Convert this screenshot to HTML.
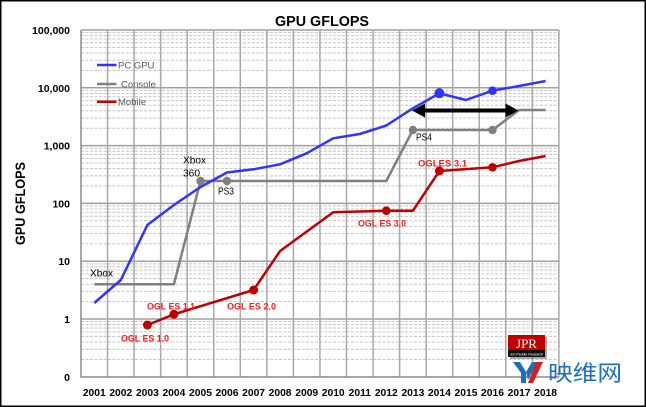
<!DOCTYPE html>
<html><head><meta charset="utf-8"><style>
html,body{margin:0;padding:0;background:#fff;}
svg{display:block;}
text{font-family:"Liberation Sans","Noto Sans CJK SC",sans-serif;}
</style></head><body>
<svg width="646" height="407" viewBox="0 0 646 407" xmlns="http://www.w3.org/2000/svg">
<rect x="0.75" y="0.75" width="644.5" height="405.5" fill="#fff" stroke="#000" stroke-width="1.5"/>
<!-- minor grid -->
<path fill="none" stroke="#c4c4c4" stroke-width="1" stroke-dasharray="3 1.5" d="
M81 359.4H559M81 349.22H559M81 342H559M81 336.4H559M81 331.82H559M81 327.95H559M81 324.6H559M81 321.65H559
M81 301.6H559M81 291.42H559M81 284.2H559M81 278.6H559M81 274.02H559M81 270.15H559M81 266.8H559M81 263.85H559
M81 243.8H559M81 233.62H559M81 226.4H559M81 220.8H559M81 216.22H559M81 212.35H559M81 209H559M81 206.05H559
M81 186H559M81 175.82H559M81 168.6H559M81 163H559M81 158.42H559M81 154.55H559M81 151.2H559M81 148.25H559
M81 128.2H559M81 118.02H559M81 110.8H559M81 105.2H559M81 100.62H559M81 96.75H559M81 93.4H559M81 90.45H559
M81 70.4H559M81 60.22H559M81 53H559M81 47.4H559M81 42.82H559M81 38.95H559M81 35.6H559M81 32.65H559"/>
<!-- major horizontal -->
<path fill="none" stroke="#a0a0a0" stroke-width="1.5" d="M81 30H559M81 87.8H559M81 145.6H559M81 203.4H559M81 261.2H559M81 319H559"/>
<!-- vertical grid -->
<path fill="none" stroke="#a8a8a8" stroke-width="1.5" d="M107.55 30V377M134.1 30V377M160.65 30V377M187.2 30V377M213.75 30V377M240.3 30V377M266.85 30V377M293.4 30V377M319.95 30V377M346.5 30V377M373.05 30V377M399.6 30V377M426.15 30V377M452.7 30V377M479.25 30V377M505.8 30V377M532.35 30V377M558.9 30V377"/>
<path fill="none" stroke="#8a8a8a" stroke-width="1.5" d="M81 30V377H559"/>
<!-- y tick labels -->
<g font-size="10.5" font-weight="bold" fill="#000" text-anchor="end">
<text x="70" y="34">100,000</text>
<text x="70" y="91.8">10,000</text>
<text x="70" y="149.6">1,000</text>
<text x="70" y="207.4">100</text>
<text x="70" y="265.2">10</text>
<text x="70" y="323">1</text>
<text x="70" y="380.8">0</text>
</g>
<!-- x labels -->
<g font-size="10.3" font-weight="bold" fill="#000" text-anchor="middle">
<text x="94.3" y="396">2001</text><text x="120.8" y="396">2002</text><text x="147.4" y="396">2003</text>
<text x="173.9" y="396">2004</text><text x="200.5" y="396">2005</text><text x="227" y="396">2006</text>
<text x="253.6" y="396">2007</text><text x="280.1" y="396">2008</text><text x="306.7" y="396">2009</text>
<text x="333.2" y="396">2010</text><text x="359.8" y="396">2011</text><text x="386.3" y="396">2012</text>
<text x="412.9" y="396">2013</text><text x="439.4" y="396">2014</text><text x="466" y="396">2015</text>
<text x="492.5" y="396">2016</text><text x="519.1" y="396">2017</text><text x="545.6" y="396">2018</text>
</g>
<!-- titles -->
<text x="322" y="26" font-size="15" font-weight="bold" text-anchor="middle" textLength="94" lengthAdjust="spacingAndGlyphs">GPU GFLOPS</text>
<text transform="translate(25 203.5) rotate(-90)" font-size="13.5" font-weight="bold" text-anchor="middle" textLength="83" lengthAdjust="spacingAndGlyphs">GPU GFLOPS</text>
<!-- legend -->
<line x1="97" y1="65" x2="116.5" y2="65" stroke="#3333ff" stroke-width="2.5"/>
<line x1="97" y1="84" x2="116.5" y2="84" stroke="#808080" stroke-width="2.5"/>
<line x1="97" y1="101.7" x2="116.5" y2="101.7" stroke="#c00000" stroke-width="2.5"/>
<g font-size="9.5" fill="#595959">
<text x="118" y="68.5">PC GPU</text>
<text x="121" y="87.5">Console</text>
<text x="118" y="105.2">Mobile</text>
</g>
<!-- series -->
<polyline fill="none" stroke="#808080" stroke-width="2.5" stroke-linejoin="round" points="94.3,284.3 173.9,284.3 200.5,181 227,181 386.3,181 412.9,130 492.5,130 519.1,110 545.6,110"/>
<polyline fill="none" stroke="#3333ff" stroke-width="2.5" stroke-linejoin="round" points="94.3,303 120.8,280 147.4,225 173.9,205 200.5,187 227,172.5 253.6,169.3 280.1,164.3 306.7,153.3 333.2,138.3 359.8,134 386.3,125.5 412.9,108.3 439.4,93.3 466,100 492.5,90.7 519.1,86 545.6,81"/>
<polyline fill="none" stroke="#c00000" stroke-width="2.5" stroke-linejoin="round" points="147.4,325 173.9,314.3 253.6,290 280.1,251 333.2,212.3 386.3,210.7 412.9,210.7 439.4,171 492.5,167.3 519.1,161 545.6,156"/>
<g fill="#808080"><circle cx="200.5" cy="181" r="4.2"/><circle cx="227" cy="181" r="4.2"/><circle cx="412.9" cy="130" r="4.2"/><circle cx="492.5" cy="130" r="4.2"/></g>
<g fill="#3333ff"><circle cx="439.4" cy="93.3" r="5"/><circle cx="492.5" cy="90.7" r="4.3"/></g>
<g fill="#c00000"><circle cx="147.4" cy="325" r="4.5"/><circle cx="173.9" cy="314.3" r="4.5"/><circle cx="253.6" cy="290" r="4.5"/><circle cx="386.3" cy="210.7" r="4.3"/><circle cx="439.4" cy="171" r="4.5"/><circle cx="492.5" cy="167.3" r="4.3"/></g>
<!-- arrow -->
<line x1="422" y1="110.5" x2="509" y2="110.5" stroke="#000" stroke-width="4"/>
<polygon points="412,110.5 425,103.5 425,117.5" fill="#000"/>
<polygon points="518.5,110.5 505.5,103.5 505.5,117.5" fill="#000"/>
<!-- annotations -->
<g font-size="10" fill="#000">
<text x="90" y="276.5" textLength="23" lengthAdjust="spacingAndGlyphs">Xbox</text>
<text x="183" y="163.5" textLength="23" lengthAdjust="spacingAndGlyphs">Xbox</text>
<text x="183" y="176.5" textLength="17" lengthAdjust="spacingAndGlyphs">360</text>
<text x="218" y="194.5" textLength="16" lengthAdjust="spacingAndGlyphs">PS3</text>
<text x="416" y="140.5" textLength="16" lengthAdjust="spacingAndGlyphs">PS4</text>
</g>
<g font-size="9.5" font-weight="bold" fill="#ff1a1a">
<text x="121" y="341.5" textLength="48" lengthAdjust="spacingAndGlyphs">OGL ES 1.0</text>
<text x="147" y="309.5" textLength="48" lengthAdjust="spacingAndGlyphs">OGL ES 1.1</text>
<text x="227" y="309.5" textLength="49" lengthAdjust="spacingAndGlyphs">OGL ES 2.0</text>
<text x="358" y="226.5" textLength="48" lengthAdjust="spacingAndGlyphs">OGL ES 3.0</text>
<text x="418" y="166.5" textLength="49" lengthAdjust="spacingAndGlyphs">OGLES 3.1</text>
</g>
<!-- JPR logo -->
<rect x="510" y="337" width="37" height="22" fill="#555" opacity="0.5"/>
<rect x="508" y="335" width="37" height="15" fill="#c00000"/>
<rect x="508" y="350" width="37" height="7" fill="#111"/>
<text x="526.5" y="348" style="font-family:'Liberation Serif',serif" font-size="13" fill="#fff" text-anchor="middle">JPR</text>
<text x="526.5" y="355.5" font-size="3.5" fill="#fff" text-anchor="middle">Jon Peddie Research</text>
<!-- watermark -->
<polygon points="513,362 520,362 526,372 526,383 521,383 521,373" fill="#1a6fc0"/>
<polygon points="526,372 532,362 537,362 528,380" fill="#1a6fc0"/>
<polygon points="528,383 536,362 543,362 533,383" fill="#d62020"/>
<text x="548" y="381" style="font-family:'Noto Sans CJK SC','WenQuanYi Zen Hei',sans-serif" font-size="22" fill="#1a6fc0" textLength="74" lengthAdjust="spacingAndGlyphs">映维网</text>
</svg>
</body></html>
